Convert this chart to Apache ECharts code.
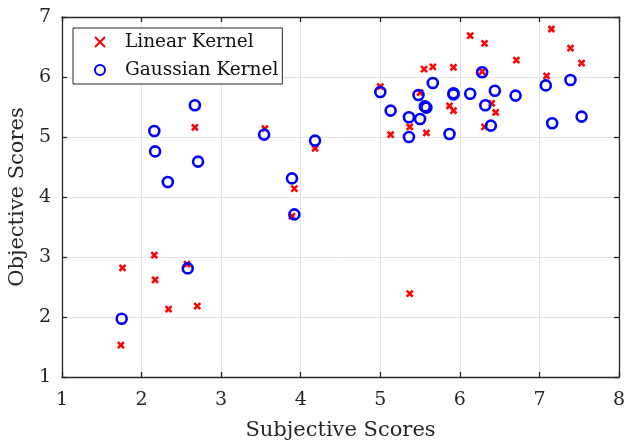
<!DOCTYPE html>
<html><head><meta charset="utf-8">
<script src="https://cdn.jsdelivr.net/npm/echarts@6/dist/echarts.min.js"></script>
<style>html,body{margin:0;padding:0;background:#fff}#c{width:625px;height:442px}</style>
</head><body><div id="c"></div>
<script>
const xTicks = [1,2,3,4,5,6,7,8];
const yTicks = [1,2,3,4,5,6,7];
const seriesNames = ['Linear Kernel','Gaussian Kernel'];
const linearX = [2.67,3.55,4.18,3.92,3.89,1.76,2.16,2.17,2.57,2.34,2.70,1.74,5.37,
  5.55,5.66,5.92,5.00,5.50,5.87,5.92,5.37,5.13,5.58,6.31,7.15,7.39,7.53,6.31,6.13,6.71,7.09,6.28,6.40,6.45];
const linearY = [5.16,5.14,4.81,4.14,3.68,2.82,3.03,2.62,2.88,2.13,2.18,1.53,2.39,
  6.13,6.17,6.16,5.84,5.74,5.52,5.44,5.17,5.04,5.07,5.17,6.80,6.48,6.23,6.56,6.69,6.28,6.02,6.09,5.56,5.41];
const gaussX = [2.67,2.16,2.17,2.71,2.33,3.54,4.18,3.89,3.92,2.58,1.75,
  5.00,5.13,5.36,5.36,5.50,5.56,5.58,5.48,5.66,5.92,5.92,5.87,6.13,6.28,6.32,6.44,6.70,6.39,7.08,7.39,7.16,7.53];
const gaussY = [5.53,5.10,4.76,4.59,4.25,5.04,4.94,4.31,3.71,2.81,1.97,
  5.75,5.44,5.33,5.00,5.30,5.51,5.49,5.70,5.90,5.73,5.71,5.05,5.72,6.08,5.53,5.77,5.69,5.19,5.86,5.95,5.23,5.34];

const zip = (a,b) => a.map((v,i)=>[v,b[i]]);
const fontFam = 'DejaVu Serif';
const axisLineStyle = {color:'#262626', width:1.3};
const mkX = (pos, show) => ({
  type:'value', min:1, max:8, interval:1, position:pos,
  name: show ? 'Subjective Scores' : '', nameLocation:'middle', nameGap:43,
  nameTextStyle:{fontFamily:fontFam, fontSize:21, color:'#262626'},
  axisLine:{show:true, onZero:false, lineStyle:axisLineStyle},
  axisTick:{show:true, inside:true, length:5, lineStyle:axisLineStyle},
  axisLabel:{show:show, margin:14, fontFamily:fontFam, fontSize:19, color:'#262626',
    formatter:v=>xTicks.includes(v)?String(v):''},
  splitLine:{show:show, lineStyle:{color:'#e3e3e3', width:1}}
});
const mkY = (pos, show) => ({
  type:'value', min:1, max:7, interval:1, position:pos,
  name: show ? 'Objective Scores' : '', nameLocation:'middle', nameGap:32,
  nameTextStyle:{fontFamily:fontFam, fontSize:21, color:'#262626'},
  axisLine:{show:true, onZero:false, lineStyle:axisLineStyle},
  axisTick:{show:true, inside:true, length:5, lineStyle:axisLineStyle},
  axisLabel:{show:show, margin:11, fontFamily:fontFam, fontSize:19, color:'#262626',
    formatter:v=>yTicks.includes(v)?String(v):''},
  splitLine:{show:show, lineStyle:{color:'#e3e3e3', width:1}}
});
const chart = echarts.init(document.getElementById('c'), null, {renderer:'canvas'});
chart.setOption({
  animation:false,
  grid:{left:62, right:6, top:17, bottom:65, containLabel:false, outerBoundsMode:'none'},
  xAxis:[mkX('bottom',true), mkX('top',false)],
  yAxis:[mkY('left',true), mkY('right',false)],
  legend:{
    orient:'vertical', left:73, top:28,
    padding:[4,4,4,21], itemGap:8, itemWidth:10, itemHeight:10,
    borderColor:'#262626', borderWidth:1, backgroundColor:'#fff',
    textStyle:{fontFamily:fontFam, fontSize:18.5, lineHeight:20, color:'#111', padding:[0,0,0,15]},
    data:seriesNames
  },
  series:[
    {name:seriesNames[0], type:'scatter', data:zip(linearX,linearY),
     symbol:'path://M0,0L10,10M10,0L0,10', symbolSize:6,
     itemStyle:{color:'rgba(0,0,0,0)', borderColor:'#ff0000', borderWidth:2.6, opacity:1}},
    {name:seriesNames[1], type:'scatter', data:zip(gaussX,gaussY),
     symbol:'circle', symbolSize:10,
     itemStyle:{color:'rgba(0,0,0,0)', borderColor:'#0000ff', borderWidth:2.6, opacity:1}}
  ]
});
</script></body></html>
